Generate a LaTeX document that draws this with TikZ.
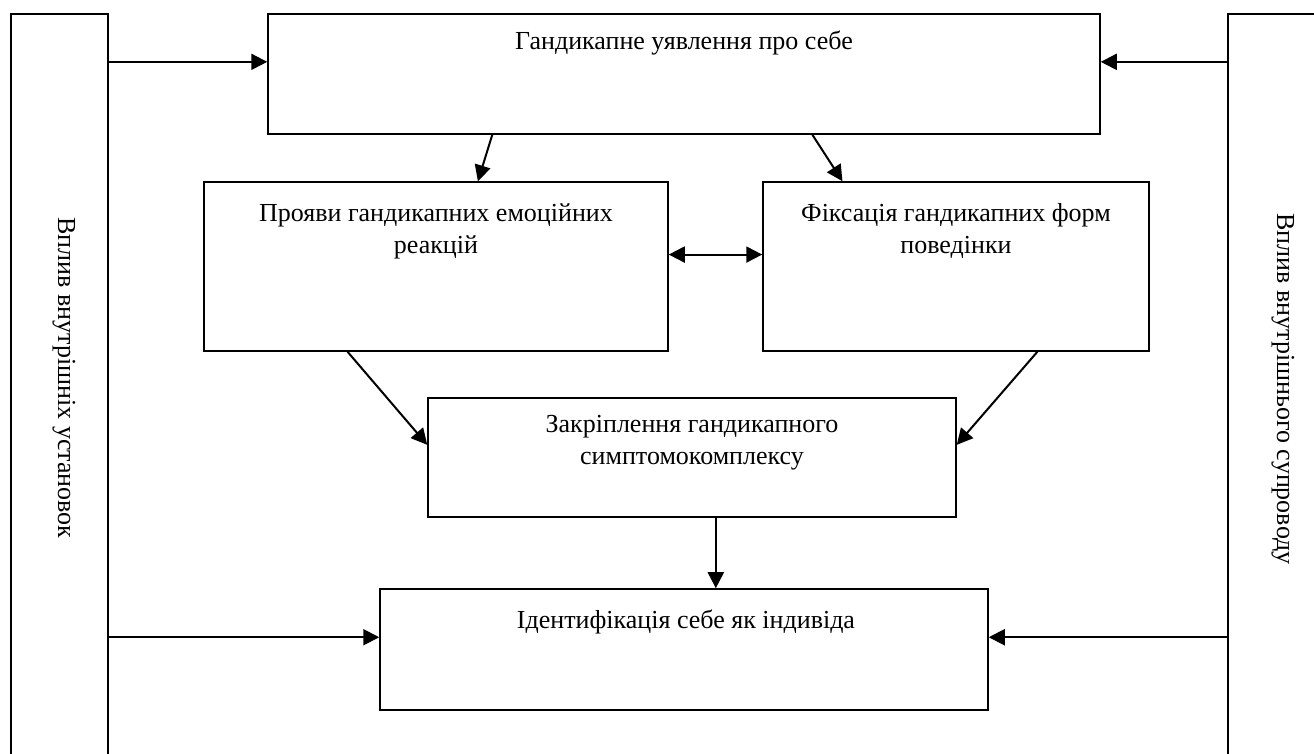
\documentclass[tikz,border=0pt]{standalone}
\usepackage{fontspec}
\setmainfont{Liberation Serif}
\usepackage{tikz}
\usetikzlibrary{arrows.meta, calc}

\tikzset{
  blk/.style={draw, rectangle, line width=0.75pt, inner sep=0pt},
  txt/.style={align=center, inner sep=0pt, font=\fontsize{13}{16}\selectfont},
}

\begin{document}
\begin{tikzpicture}[x=0.5pt, y=-0.5pt, line width=1pt, >={Triangle[length=8pt, width=8pt]}]
\useasboundingbox (0,0) rectangle (1314,754);
\clip (0,0) rectangle (1314,754);
%
\node[blk, minimum width=48.5pt, minimum height=378pt](lcol) at (59.5,392) {};
\node[txt, rotate=-90](lcoltxt) at (64,378) {Вплив внутрішніх установок};
%
\node[blk, minimum width=51pt, minimum height=378pt](rcol) at (1279,392) {};
\node[txt, rotate=-90](rcoltxt) at (1283,389) {Вплив внутрішнього супроводу};
%
\node[blk, minimum width=416pt, minimum height=60pt](top) at (684,74) {};
\node[txt, anchor=base](toptxt) at (684,50) {Гандикапне уявлення про себе};
%
\node[blk, minimum width=232pt, minimum height=84.5pt](emo) at (436,266.5) {};
\node[txt, anchor=base](emotxt) at (436,254) {Прояви гандикапних емоційних\\реакцій};
%
\node[blk, minimum width=193pt, minimum height=84.5pt](beh) at (956,266.5) {};
\node[txt, anchor=base](behtxt) at (956,254) {Фіксація гандикапних форм\\поведінки};
%
\node[blk, minimum width=264pt, minimum height=59.5pt](fix) at (692,457.5) {};
\node[txt, anchor=base](fixtxt) at (692,465) {Закріплення гандикапного\\симптомокомплексу};
%
\node[blk, minimum width=304pt, minimum height=60.5pt](ident) at (684,649.5) {};
\node[txt, anchor=base](identtxt) at (686,629) {Ідентифікація себе як індивіда};
%
\coordinate(topinl) at ($(top.north west)!0.4!(top.south west)$);
\coordinate(topinr) at ($(top.north east)!0.4!(top.south east)$);
\draw[->](lcol.east |- topinl) -- (topinl) {};
\draw[->](rcol.west |- topinr) -- (topinr) {};
%
\draw[->]($(top.south west)!0.27!(top.south east)$) -- ($(emo.north west)!0.59!(emo.north east)$) {};
\draw[->]($(top.south west)!0.654!(top.south east)$) -- ($(beh.north west)!0.207!(beh.north east)$) {};
%
\coordinate(emoout) at ($(emo.north east)!0.43!(emo.south east)$);
\draw[<->](emoout) -- (beh.west |- emoout) {};
%
\draw[->]($(emo.south west)!0.31!(emo.south east)$) -- ($(fix.north west)!0.395!(fix.south west)$) {};
\draw[->]($(beh.south west)!0.71!(beh.south east)$) -- ($(fix.north east)!0.395!(fix.south east)$) {};
%
\coordinate(fixout) at ($(fix.south west)!0.545!(fix.south east)$);
\draw[->](fixout) -- (fixout |- ident.north) {};
%
\coordinate(idinl) at ($(ident.north west)!0.4!(ident.south west)$);
\coordinate(idinr) at ($(ident.north east)!0.4!(ident.south east)$);
\draw[->](lcol.east |- idinl) -- (idinl) {};
\draw[->](rcol.west |- idinr) -- (idinr) {};
\end{tikzpicture}
\end{document}
